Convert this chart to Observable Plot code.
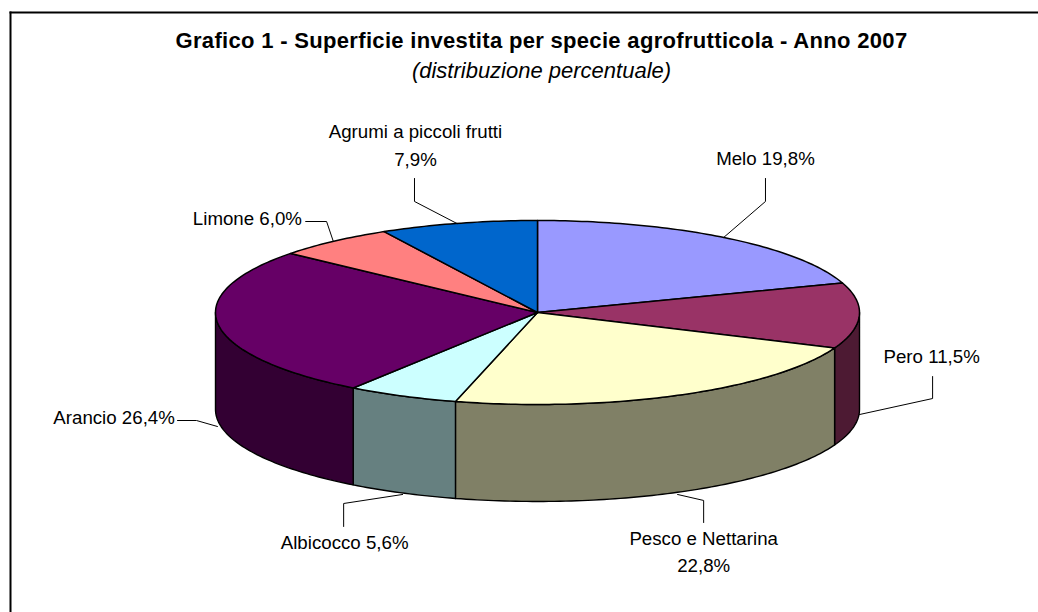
<!DOCTYPE html>
<html><head><meta charset="utf-8">
<script src="https://cdn.jsdelivr.net/npm/d3@7"></script>
<script src="https://cdn.jsdelivr.net/npm/@observablehq/plot@0.6"></script>
<style>html,body{margin:0;padding:0;background:#fff}svg{display:block}.ttl text{letter-spacing:.32px}</style>
</head><body><div id="chart"></div>
<script>
const names = ["Melo","Pero","Pesco e Nettarina","Albicocco","Arancio","Limone","Agrumi a piccoli frutti"];
const shares = [19.8,11.5,22.8,5.6,26.4,6.0,7.9];
const topColors = ["#9999FF","#993366","#FFFFCC","#CCFFFF","#660066","#FF8080","#0066CC"];
const sideColors = ["#4D1A33","#4D1A33","#808066","#668080","#330033","#804040","#003366"];
const labelLines = [["Melo 19,8%"],["Pero 11,5%"],["Pesco e Nettarina","22,8%"],["Albicocco 5,6%"],["Arancio 26,4%"],["Limone 6,0%"],["Agrumi a piccoli frutti","7,9%"]];

// Pie geometry in chart units: x = sin(angle), y = cos(angle), depth in the same y units
const depth = 1.054;
const total = d3.sum(shares);
const cum = d3.cumsum(shares);
const slices = names.map((name,i)=>({name,i,a0:(i?cum[i-1]:0)/total*2*Math.PI,a1:cum[i]/total*2*Math.PI}));
const arc = (a0,a1,dy=0)=>{
  const n = Math.max(2,Math.ceil((a1-a0)/(Math.PI/180)));
  return d3.range(n+1).map(k=>{const a=a0+(a1-a0)*k/n;return {x:Math.sin(a),y:Math.cos(a)-dy};});
};
const topPoly = s=>[{x:0,y:0},...arc(s.a0,s.a1),{x:0,y:0}];
const sidePoly = s=>{
  const a0=Math.max(s.a0,Math.PI/2), a1=Math.min(s.a1,Math.PI*1.5);
  if(a1<=a0) return null;
  const t=arc(a0,a1), b=arc(a0,a1,depth).reverse();
  return [...t,...b,t[0]];
};

// Leader lines and label anchors, in chart units
const leaders = [
 [[0.578,0.815],[0.708,1.207],[0.708,1.457]],
 [[1.000,-1.109],[1.227,-0.935],[1.227,-0.696]],
 [[0.435,-1.978],[0.516,-2.043],[0.516,-2.283]],
 [[-0.419,-1.978],[-0.602,-2.076],[-0.602,-2.326]],
 [[-0.994,-1.239],[-1.059,-1.174],[-1.118,-1.174]],
 [[-0.634,0.772],[-0.655,0.989],[-0.720,0.989]],
 [[-0.250,0.967],[-0.382,1.207],[-0.382,1.457]]
];
const labelPos = [
 {x:0.708,y:1.663},
 {x:1.224,y:-0.489},
 {x:0.516,y:-2.457},
 {x:-0.599,y:-2.511},
 {x:-1.315,y:-1.152},
 {x:-0.901,y:1.011},
 {x:-0.379,y:1.957}
];
const lineStep = 0.304;
const labelRows = labelPos.flatMap((p,i)=>labelLines[i].map((t,j)=>({x:p.x,y:p.y-j*lineStep,text:t})));

const plot = Plot.plot({
  width:1038,height:612,
  marginLeft:10,marginTop:12,marginRight:0,marginBottom:0,
  x:{domain:[-1,1],range:[215,859],axis:null},
  y:{domain:[-1,1],range:[404,220],axis:null},
  style:{background:"#fff",fontFamily:"'Liberation Sans',Arial,sans-serif"},
  marks:[
    Plot.frame({anchor:"left",stroke:"#000",strokeWidth:2}),
    Plot.frame({anchor:"top",stroke:"#000",strokeWidth:2}),
    ...slices.map(s=>{const p=sidePoly(s);return p?Plot.line(p,{x:"x",y:"y",fill:sideColors[s.i],stroke:"#000",strokeWidth:1.4,curve:"linear"}):null}).filter(Boolean),
    ...slices.map(s=>Plot.line(topPoly(s),{x:"x",y:"y",fill:topColors[s.i],stroke:"#000",strokeWidth:1.5,curve:"linear"})),
    ...leaders.map(l=>Plot.line(l.map(([x,y])=>({x,y})),{x:"x",y:"y",stroke:"#000",strokeWidth:1,curve:"linear"})),
    Plot.text(labelRows,{x:"x",y:"y",text:"text",fontSize:18.7,fill:"#000",textAnchor:"middle",lineAnchor:"middle"}),
    Plot.text(["Grafico 1 - Superficie investita per specie agrofrutticola - Anno 2007"],{frameAnchor:"top",dx:17,dy:28,text:d=>d,fontSize:22,fontWeight:"bold",fill:"#000",lineAnchor:"middle",className:"ttl"}),
    Plot.text(["(distribuzione percentuale)"],{frameAnchor:"top",dx:17,dy:58,text:d=>d,fontSize:22,fontStyle:"italic",fill:"#000",lineAnchor:"middle"})
  ]
});
document.getElementById("chart").append(plot);
</script></body></html>
